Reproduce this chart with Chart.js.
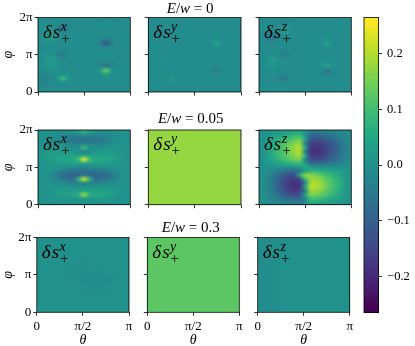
<!DOCTYPE html>
<html>
<head>
<meta charset="utf-8">
<script src="https://cdn.jsdelivr.net/npm/chart.js@4"></script>
<style>
  html, body { margin: 0; padding: 0; background: #fff; }
  #page { position: relative; width: 415px; height: 346px; overflow: hidden; }
  canvas { position: absolute; left: 0; top: 0; }
</style>
</head>
<body>
<div id="page"></div>
<script>
// all grids are hundredths of delta s, first row is phi = 2pi, first column is theta = 0
const sxE0 = [
  [-1,-1,-1,-1,-1,-1,-1,-1,-1,-1,-1,-1,-1,-1,-1,-1,-1],
  [-1,0,0,-1,-2,-2,-1,-1,-1,-1,-1,-1,0,0,-1,-1,-1],
  [-1,0,0,-3,-8,-3,-1,-1,-1,-1,-1,-1,-1,-1,-1,-1,-1],
  [-1,1,1,-1,-3,-2,-1,-1,-1,-1,-1,-1,-1,-1,-1,-1,-1],
  [-1,2,2,0,-1,-1,-1,-1,-1,-1,-1,-1,-1,-1,-1,-1,-1],
  [-1,1,2,0,-1,-1,-1,-1,-1,-1,-1,-2,-3,-2,-1,-1,-1],
  [-1,0,0,-1,-1,-1,-1,-1,-1,-1,-1,-4,-14,-4,-1,-1,-1],
  [-1,-1,0,-1,-1,-1,-1,-1,-1,-1,-1,-2,-3,-2,-1,-1,-1],
  [-1,-1,0,-1,-2,-2,-1,-1,-1,-1,-1,-1,-1,-1,-1,-1,-1],
  [-1,0,1,-2,-6,-2,-1,-1,-1,-1,-1,-1,-1,-1,-1,-1,-1],
  [-1,1,2,0,-2,-1,-1,-1,-1,-1,-1,-1,-1,-1,-1,-1,-1],
  [-1,1,2,0,-1,-1,-1,-1,-1,-1,-1,-2,-2,-2,-1,-1,-1],
  [-1,1,2,0,-1,-1,-1,-1,-1,-1,-1,-3,-6,-3,-1,-1,-1],
  [-1,0,1,0,-1,-1,-1,-1,-1,-1,0,2,15,2,0,-1,-1],
  [-2,-2,0,-1,0,0,-1,-1,-1,-1,-1,0,4,0,-1,-1,-1],
  [-2,-3,-2,1,9,2,-1,-1,-1,-1,-1,-1,-1,-1,-1,-1,-1],
  [-2,-3,-2,-1,0,0,-1,-1,-1,-1,-1,-1,-1,-1,-1,-1,-1],
  [-1,-2,-1,-1,-1,-1,-1,-1,-1,-1,-1,-1,-1,-1,-1,-1,-1],
  [-1,-1,-1,-1,-1,-1,-1,-1,-1,-1,-1,-1,-1,-1,-1,-1,-1]
];
const syE0 = [
  [-1,-1,-1,-1,-1,-1,-1,-1,-1,-1,-1,-1,-1,-1,-1,-1,-1],
  [-1,-1,-1,-1,-1,-1,-1,-1,-1,-1,-1,-1,-1,-1,-1,-1,-1],
  [-1,-1,-1,-1,-1,-1,-1,-1,-1,-1,-1,-1,-1,-1,-1,-1,-1],
  [-1,-1,-1,-1,-1,-1,-1,-1,-1,-1,-1,-1,-1,-1,-1,-1,-1],
  [-1,-1,-1,-1,-1,-1,-1,-1,-1,-1,-1,-1,-1,-1,-1,-1,-1],
  [-1,-1,-1,-1,-1,-1,-1,-1,-1,-1,-1,-1,0,-1,-1,-1,-1],
  [-1,-1,-1,-1,-1,-1,-1,-1,-1,-1,-1,0,4,0,-1,-1,-1],
  [-1,-1,-1,-1,-1,-1,-1,-1,-1,-1,-1,-1,0,-1,-1,-1,-1],
  [-1,-1,-1,-1,-1,-1,-1,-1,-1,-1,-1,-1,-1,-1,-1,-1,-1],
  [-1,-1,-1,-1,-1,-1,-1,-1,-1,-1,-1,-1,-1,-1,-1,-1,-1],
  [-1,-1,0,-1,-1,-1,-1,-1,-1,-1,-1,-1,-1,-1,-1,-1,-1],
  [-1,-1,0,-1,-1,-1,-1,-1,-1,-1,-1,-1,-1,-1,-1,-1,-1],
  [-1,-1,-1,-1,-1,-1,-1,-1,-1,-1,-1,-1,-2,-1,-1,-1,-1],
  [-1,-1,-1,-1,-1,-1,-1,-1,-1,-1,-1,-2,-4,-2,-1,-1,-1],
  [-1,-1,-1,-1,-1,-1,-1,-1,-1,-1,-1,-1,-2,-1,-1,-1,-1],
  [-1,-1,-1,-1,2,-1,-1,-1,-1,-1,-1,-1,-1,-1,-1,-1,-1],
  [-1,-1,-1,-1,-1,-1,-1,-1,-1,-1,-1,-1,-1,-1,-1,-1,-1],
  [-1,-1,-1,-1,-1,-1,-1,-1,-1,-1,-1,-1,-1,-1,-1,-1,-1],
  [-1,-1,-1,-1,-1,-1,-1,-1,-1,-1,-1,-1,-1,-1,-1,-1,-1]
];
const szE0 = [
  [-1,-1,-1,-1,-2,-1,-1,-1,-1,-1,-1,-1,-1,-1,-1,-1,-1],
  [-1,-1,-1,-2,-3,-1,-1,-1,-1,-1,-1,-1,-1,-1,-1,-1,-1],
  [-1,-1,-2,0,2,0,-1,-1,-1,-1,-1,-1,-1,-1,-1,-1,-1],
  [-1,-2,-3,0,3,0,-1,-1,-1,-1,-1,-1,-1,-1,-1,-1,-1],
  [-1,-3,-5,-3,-1,-1,-1,-1,-1,-1,-1,-1,-1,-1,-1,-1,-1],
  [-1,-3,-5,-2,-1,-1,-1,-1,-1,-1,-1,-1,0,-1,-1,-1,-1],
  [-1,-1,-2,-1,-1,-1,-1,-1,-1,-1,-1,0,4,0,-1,-1,-1],
  [-1,-1,-1,-1,-1,-1,-1,-1,-1,-1,-1,-1,0,-1,-1,-1,-1],
  [-1,-1,-1,-1,-2,-1,-1,-1,-1,-1,-1,-1,-1,-1,-1,-1,-1],
  [-1,-1,0,-2,-4,-2,-1,-1,-1,-1,-1,-1,-1,-1,-1,-1,-1],
  [-1,0,2,0,-1,-1,-1,-1,-1,-1,-1,-1,-1,-1,-1,-1,-1],
  [-1,0,2,0,-1,-1,-1,-1,-1,-1,-1,0,0,0,-1,-1,-1],
  [-1,0,1,0,-1,-1,-1,-1,-1,-1,-1,0,5,0,-1,-1,-1],
  [-1,-1,0,-1,-1,-1,-1,-1,-1,-1,-1,-2,-7,-2,-1,-1,-1],
  [-1,-1,-1,-1,-2,-1,-1,-1,-1,-1,-1,-2,-3,-2,-1,-1,-1],
  [-1,-1,-1,-3,-6,-3,-1,-1,-1,-1,-1,-1,-1,-1,-1,-1,-1],
  [-1,-1,-1,-1,-2,-1,-1,-1,-1,-1,-1,-1,-1,-1,-1,-1,-1],
  [-1,-1,-1,-1,-1,-1,-1,-1,-1,-1,-1,-1,-1,-1,-1,-1,-1],
  [-1,-1,-1,-1,-1,-1,-1,-1,-1,-1,-1,-1,-1,-1,-1,-1,-1]
];
const sxE005 = [
  [0,0,0,0,0,0,1,3,7,3,1,0,0,0,0,0,0],
  [0,0,0,-1,-2,-3,-4,-4,-2,-4,-4,-3,-2,-1,0,0,0],
  [0,0,-1,-2,-3,-5,-6,-6,-7,-6,-6,-5,-4,-2,-1,0,0],
  [0,0,0,-1,-1,-2,-3,-3,-3,-3,-3,-3,-2,-1,0,0,0],
  [0,1,1,1,1,0,-1,1,9,1,-1,0,1,1,1,0,0],
  [0,1,2,2,2,2,1,-1,-3,-1,1,2,2,2,1,1,0],
  [1,2,3,4,4,4,4,4,5,4,4,4,4,3,2,1,0],
  [1,2,3,4,5,5,6,10,25,10,6,6,5,4,3,1,0],
  [0,1,2,2,3,3,3,3,4,3,3,3,3,2,1,1,0],
  [0,1,1,1,0,0,-1,-2,-3,-2,-1,0,0,1,1,0,0],
  [0,0,0,-2,-4,-5,-6,-6,-7,-6,-6,-6,-5,-3,-1,0,0],
  [0,0,-1,-4,-7,-9,-10,-9,-4,-9,-10,-9,-7,-5,-2,0,0],
  [0,0,-1,-3,-5,-7,-7,8,22,8,-7,-7,-6,-4,-2,0,0],
  [0,0,0,0,-1,-2,-3,-3,-2,-3,-3,-2,-1,-1,0,0,0],
  [0,0,0,1,1,1,0,0,1,1,1,1,1,1,0,0,0],
  [0,0,1,2,2,2,2,3,5,4,4,4,4,3,1,0,0],
  [0,0,1,2,3,3,4,7,18,7,5,5,4,3,1,0,0],
  [0,0,0,1,1,1,1,1,2,1,2,2,2,1,0,0,0],
  [0,0,0,0,0,0,0,0,0,0,0,0,0,0,0,0,0]
];
const syE005 = [
  [18,18,18],
  [18,18,18],
  [18,18,18]
];
const szE005 = [
  [0,1,1,2,3,4,4,5,1,-4,-5,-4,-4,-3,-2,-1,0],
  [0,1,3,4,6,7,9,10,0,-9,-10,-9,-8,-6,-4,-2,-1],
  [0,2,4,7,9,11,13,15,4,-13,-14,-13,-11,-9,-7,-4,-1],
  [0,3,5,8,11,14,17,18,-4,-16,-17,-16,-14,-11,-8,-4,-2],
  [0,3,6,9,12,15,18,20,5,-18,-19,-18,-15,-12,-9,-5,-2],
  [0,3,6,9,12,15,18,20,-5,-18,-19,-18,-15,-12,-9,-5,-2],
  [0,3,6,9,11,14,17,19,6,-17,-18,-17,-14,-11,-8,-4,-2],
  [0,2,5,7,10,12,14,15,-3,-14,-15,-14,-12,-9,-7,-4,-1],
  [0,1,3,4,5,7,8,8,3,-7,-8,-7,-6,-5,-4,-2,-1],
  [0,0,0,0,0,0,0,2,5,3,1,1,1,0,0,0,0],
  [0,-1,-3,-5,-7,-8,-8,-6,4,8,8,7,6,5,4,2,1],
  [0,-2,-4,-7,-11,-13,-14,6,17,17,15,13,10,8,6,3,1],
  [0,-2,-5,-9,-13,-16,-17,-15,8,18,18,16,13,10,7,4,1],
  [0,-3,-6,-10,-14,-17,-19,-18,-4,19,20,18,14,11,8,4,1],
  [0,-3,-6,-10,-14,-18,-19,-18,6,20,20,18,14,11,8,4,1],
  [0,-2,-5,-9,-13,-16,-18,-16,-5,18,18,16,13,10,7,4,1],
  [0,-2,-4,-7,-10,-13,-14,-13,5,15,15,13,11,8,6,3,1],
  [0,-1,-3,-4,-6,-8,-9,-9,-3,10,10,9,7,5,4,2,1],
  [0,-1,-1,-2,-3,-4,-4,-5,-1,5,5,4,3,2,2,1,0]
];
const sxE03 = [
  [0,0,0,0,0,0],
  [0,0,-0.3,-0.3,0,0],
  [0,-0.3,-0.5,-0.5,-0.3,0],
  [0,-0.3,-0.5,-0.8,-0.8,0],
  [0,0,-0.3,-0.3,0,0],
  [0,0,0,0,0,0]
];
const syE03 = [
  [13,13,13],
  [13,13,13],
  [13,13,13]
];
const szE03 = [
  [-1,-0.3,0,0,0,0],
  [-1,-0.3,-0.3,0,0,0],
  [-1,-0.3,-0.3,0,0,0],
  [-1,-0.3,0,0,0,0]
];
const colorbarLevels = [
  [26.5],[24],[22],[20],[18],[16],[14],[12],[10],[8],[6],[4],[2],[0],
  [-2],[-4],[-6],[-8],[-10],[-12],[-14],[-16],[-18],[-20],[-22],[-24],[-26.5]
];

const thetaTicks = [0, Math.PI / 2, Math.PI];
const thetaLabels = ['0', 'π/2', 'π'];
const phiTicks = [0, Math.PI, 2 * Math.PI];
const phiLabels = ['0', 'π', '2π'];
const barTicks = [-0.2, -0.1, 0, 0.1, 0.2];
const barLabels = ['−0.2', '−0.1', '0.0', '0.1', '0.2'];
const titles = ['0', '0.05', '0.3'];
const components = ['x', 'y', 'z'];

const viridis = ['#440154', '#482475', '#414487', '#355f8d', '#2a788e', '#21918c', '#22a884', '#44bf70', '#7ad151', '#bddf26', '#fde725'];
const vmax = 0.265;
const serif = '"Liberation Serif", serif';

function hexToRgb(h) {
  return [1, 3, 5].map(i => parseInt(h.substr(i, 2), 16));
}

function colorFor(v) {
  let t = (v + vmax) / (2 * vmax);
  t = Math.min(1, Math.max(0, t)) * (viridis.length - 1);
  const i = Math.min(viridis.length - 2, Math.floor(t));
  const a = hexToRgb(viridis[i]);
  const b = hexToRgb(viridis[i + 1]);
  const f = t - i;
  return a.map((c, k) => Math.round(c + (b[k] - c) * f));
}

// turns a grid into scatter points at the cell centres
function cells(grid, xMax, yMin, yMax) {
  const pts = [];
  grid.forEach((row, i) => row.forEach((v, j) => {
    pts.push({
      x: (j + 0.5) / row.length * xMax,
      y: yMax - (i + 0.5) / grid.length * (yMax - yMin),
      v: v / 100
    });
  }));
  return pts;
}

// paints the cells with smoothing, the rectangle comes from the scales
const heatPlugin = {
  id: 'heat',
  beforeDatasetsDraw(chart, args, opts) {
    const off = document.createElement('canvas');
    off.width = opts.cols;
    off.height = opts.rows;
    const octx = off.getContext('2d');
    const img = octx.createImageData(opts.cols, opts.rows);
    chart.data.datasets[0].data.forEach((p, n) => {
      const c = colorFor(p.v);
      img.data.set([c[0], c[1], c[2], 255], n * 4);
    });
    octx.putImageData(img, 0, 0);
    const x0 = chart.scales.x.getPixelForValue(chart.scales.x.min);
    const x1 = chart.scales.x.getPixelForValue(chart.scales.x.max);
    const y0 = chart.scales.y.getPixelForValue(chart.scales.y.max);
    const y1 = chart.scales.y.getPixelForValue(chart.scales.y.min);
    const ctx = chart.ctx;
    ctx.save();
    ctx.imageSmoothingEnabled = true;
    ctx.imageSmoothingQuality = 'high';
    ctx.drawImage(off, x0, y0, x1 - x0, y1 - y0);
    ctx.restore();
  }
};

function drawRuns(ctx, runs, x, y) {
  runs.forEach(r => {
    ctx.font = r.font;
    ctx.fillText(r.text, x + (r.dx || 0), y + (r.dy || 0));
    if (!r.stay) x += ctx.measureText(r.text).width + (r.dx || 0);
  });
}

// frame, the delta s label and the title over the middle column
const textPlugin = {
  id: 'panelText',
  afterDraw(chart, args, opts) {
    const ctx = chart.ctx;
    const a = chart.chartArea;
    ctx.save();
    ctx.strokeStyle = '#000';
    ctx.lineWidth = 0.8;
    ctx.strokeRect(a.left, a.top, a.right - a.left, a.bottom - a.top);
    ctx.fillStyle = '#000';
    ctx.textBaseline = 'alphabetic';
    if (opts.comp) {
      const big = 'italic 19px ' + serif;
      drawRuns(ctx, [
        { text: 'δ', font: big },
        { text: 's', font: big, dx: 1 },
        { text: opts.comp, font: 'italic 14px ' + serif, dy: -7, dx: 0.5, stay: true },
        { text: '+', font: '15px ' + serif, dy: 5, dx: 1 }
      ], a.left + 5, a.top + 20);
    }
    if (opts.title) {
      const big = 'italic 15px ' + serif;
      const up = '15px ' + serif;
      const runs = [
        { text: 'E', font: big }, { text: '/', font: up }, { text: 'w', font: big },
        { text: ' = ', font: up }, { text: opts.title, font: up }
      ];
      let w = 0;
      runs.forEach(r => { ctx.font = r.font; w += ctx.measureText(r.text).width; });
      drawRuns(ctx, runs, (a.left + a.right) / 2 + opts.titleDx - w / 2, a.top - opts.titleUp);
    }
    ctx.restore();
  }
};
Chart.register(heatPlugin, textPlugin);

const page = document.getElementById('page');

function addChart(config) {
  const c = document.createElement('canvas');
  c.width = 415;
  c.height = 346;
  page.appendChild(c);
  return new Chart(c, config);
}

function labelFrom(values, labels) {
  return v => {
    const i = values.findIndex(t => Math.abs(t - v) < 1e-6);
    return i < 0 ? '' : labels[i];
  };
}

function axisBits() {
  return {
    grid: { drawOnChartArea: false, drawTicks: true, tickLength: 3.5, color: '#000', lineWidth: 0.8 },
    border: { display: false }
  };
}

function addPanel(grid, box, row, col) {
  const showX = row === 2;
  const showY = col === 0;
  addChart({
    type: 'scatter',
    data: { datasets: [{ data: cells(grid, Math.PI, 0, 2 * Math.PI), pointRadius: 0 }] },
    options: {
      responsive: false,
      animation: false,
      events: [],
      layout: { padding: { left: 0, top: box.top, right: 415 - box.right, bottom: 0 } },
      plugins: {
        legend: { display: false },
        tooltip: { enabled: false },
        heat: { cols: grid[0].length, rows: grid.length },
        panelText: {
          comp: components[col],
          title: col === 1 ? titles[row] : '',
          titleDx: box.titleDx,
          titleUp: box.titleUp
        }
      },
      scales: {
        x: {
          type: 'linear',
          min: 0,
          max: Math.PI,
          ...axisBits(),
          afterBuildTicks: s => { s.ticks = thetaTicks.map(v => ({ value: v })); },
          afterFit: s => { s.height = 346 - box.bottom; },
          ticks: {
            autoSkip: false,
            maxRotation: 0,
            padding: 3,
            color: '#000',
            font: { family: serif, size: 13 },
            callback: showX ? labelFrom(thetaTicks, thetaLabels) : () => ''
          },
          title: {
            display: showX, text: 'θ', color: '#000',
            font: { family: serif, size: 14, style: 'italic' },
            padding: { top: 0, bottom: -3 }
          }
        },
        y: {
          type: 'linear',
          min: 0,
          max: 2 * Math.PI,
          ...axisBits(),
          afterBuildTicks: s => { s.ticks = phiTicks.map(v => ({ value: v })); },
          afterFit: s => { s.width = box.left; },
          ticks: {
            autoSkip: false,
            padding: 2,
            color: '#000',
            font: { family: serif, size: 13 },
            callback: showY ? labelFrom(phiTicks, phiLabels) : () => ''
          },
          title: {
            display: showY, text: 'φ', color: '#000',
            font: { family: serif, size: 14, style: 'italic' },
            padding: { top: 0, bottom: 0 }
          }
        }
      }
    }
  });
}

const rowBoxes = [
  { top: 17.5, bottom: 92, titleDx: -4.5, titleUp: 5, cols: [[38, 130.3], [148.3, 241], [259, 351.3]] },
  { top: 130, bottom: 204.7, titleDx: -4, titleUp: 7, cols: [[38, 130.3], [148.3, 241], [259, 351.3]] },
  { top: 237.5, bottom: 312.3, titleDx: -2.5, titleUp: 6, cols: [[36.8, 129], [147.3, 239.3], [257.7, 349.7]] }
];
const panelGrids = [
  [sxE0, syE0, szE0],
  [sxE005, syE005, szE005],
  [sxE03, syE03, szE03]
];

panelGrids.forEach((rowGrids, row) => {
  rowGrids.forEach((grid, col) => {
    const b = rowBoxes[row];
    addPanel(grid, {
      top: b.top, bottom: b.bottom, left: b.cols[col][0], right: b.cols[col][1],
      titleDx: b.titleDx, titleUp: b.titleUp
    }, row, col);
  });
});

// colorbar
addChart({
  type: 'scatter',
  data: { datasets: [{ data: cells(colorbarLevels, 1, -vmax, vmax), pointRadius: 0 }] },
  options: {
    responsive: false,
    animation: false,
    events: [],
    layout: { padding: { left: 364, top: 17.5, right: 0, bottom: 346 - 312.6 } },
    plugins: {
      legend: { display: false },
      tooltip: { enabled: false },
      heat: { cols: 1, rows: colorbarLevels.length },
      panelText: {}
    },
    scales: {
      x: { type: 'linear', min: 0, max: 1, display: false },
      y: {
        type: 'linear',
        position: 'right',
        min: -vmax,
        max: vmax,
        ...axisBits(),
        afterBuildTicks: s => { s.ticks = barTicks.map(v => ({ value: v })); },
        afterFit: s => { s.width = 415 - 378.6; },
        ticks: {
          autoSkip: false,
          padding: 5,
          color: '#000',
          font: { family: serif, size: 12.5 },
          callback: labelFrom(barTicks, barLabels)
        }
      }
    }
  }
});
</script>
</body>
</html>
